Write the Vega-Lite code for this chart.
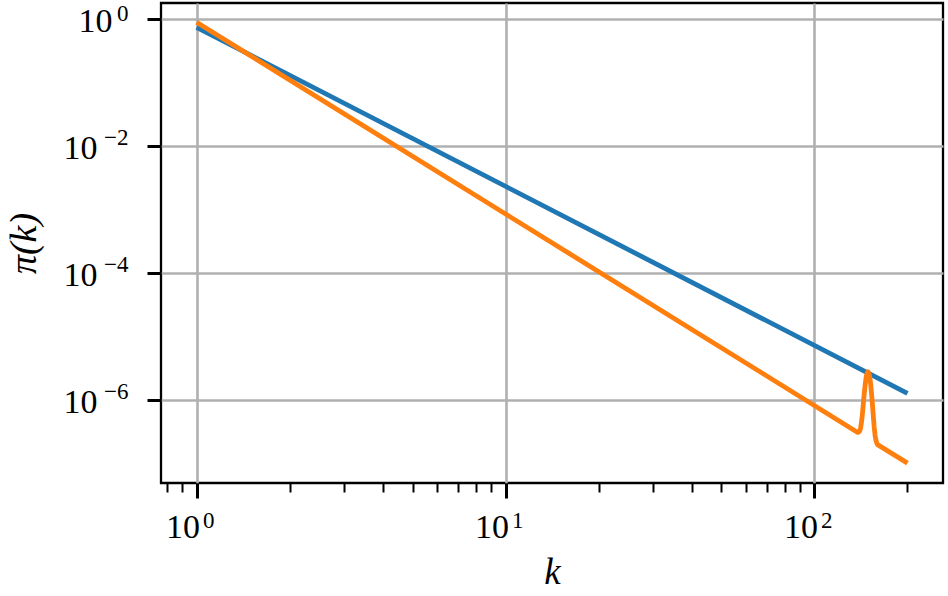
{
  "$schema": "https://vega.github.io/schema/vega-lite/v6.json",
  "width": 782,
  "height": 480,
  "autosize": "none",
  "padding": {"left": 161, "top": 3, "right": 5, "bottom": 113},
  "background": "white",
  "config": {
    "view": {"stroke": "black", "strokeWidth": 2.3},
    "font": "Liberation Serif"
  },
  "data": {
    "values": [
      {"series": "s1", "k": 1, "p": 0.748},
      {"series": "s1", "k": 200, "p": 1.276e-6},
      {"series": "s2", "k": 1, "p": 0.897},
      {"series": "s2", "k": 138, "p": 3.09e-7},
      {"series": "s2", "k": 139, "p": 3.12e-7},
      {"series": "s2", "k": 140, "p": 3.24e-7},
      {"series": "s2", "k": 141, "p": 3.63e-7},
      {"series": "s2", "k": 142, "p": 4.51e-7},
      {"series": "s2", "k": 143, "p": 6.22e-7},
      {"series": "s2", "k": 144, "p": 9.07e-7},
      {"series": "s2", "k": 145, "p": 1.314e-6},
      {"series": "s2", "k": 146, "p": 1.809e-6},
      {"series": "s2", "k": 147, "p": 2.299e-6},
      {"series": "s2", "k": 148, "p": 2.663e-6},
      {"series": "s2", "k": 149, "p": 2.796e-6},
      {"series": "s2", "k": 150, "p": 2.653e-6},
      {"series": "s2", "k": 151, "p": 2.279e-6},
      {"series": "s2", "k": 152, "p": 1.779e-6},
      {"series": "s2", "k": 153, "p": 1.275e-6},
      {"series": "s2", "k": 154, "p": 8.57e-7},
      {"series": "s2", "k": 155, "p": 5.62e-7},
      {"series": "s2", "k": 156, "p": 3.81e-7},
      {"series": "s2", "k": 157, "p": 2.83e-7},
      {"series": "s2", "k": 158, "p": 2.34e-7},
      {"series": "s2", "k": 159, "p": 2.12e-7},
      {"series": "s2", "k": 160, "p": 1.982e-7},
      {"series": "s2", "k": 200, "p": 1.015e-7}
    ]
  },
  "layer": [
    {
      "mark": {"type": "line", "strokeWidth": 4.8, "clip": true, "strokeCap": "butt", "strokeJoin": "round"},
      "encoding": {
        "x": {
          "field": "k", "type": "quantitative",
          "scale": {"type": "log", "domain": [0.767, 260.6], "nice": false},
          "axis": {
            "values": [1, 10, 100],
            "domain": false,
            "grid": true,
            "gridColor": "#b0b0b0",
            "gridWidth": 2.6,
            "gridOpacity": 1,
            "tickColor": "black",
            "tickSize": 15,
            "tickWidth": 3,
            "labelColor": "black",
            "labelFont": "Liberation Serif",
            "labelFontSize": 34,
            "labelAlign": "right",
            "labelBaseline": "alphabetic",
            "labelOffset": 3,
            "labelPadding": 39,
            "labelExpr": "'10'",
            "title": "k",
            "titleColor": "black",
            "titleFont": "Liberation Serif",
            "titleFontSize": 37,
            "titleFontWeight": "normal",
            "titleFontStyle": "italic",
            "titlePadding": 10,
            "orient": "bottom"
          }
        },
        "y": {
          "field": "p", "type": "quantitative",
          "scale": {"type": "log", "domain": [4.93e-8, 1.807], "nice": false},
          "axis": {
            "values": [1, 0.01, 0.0001, 0.000001],
            "domain": false,
            "grid": true,
            "gridColor": "#b0b0b0",
            "gridWidth": 2.6,
            "gridOpacity": 1,
            "tickColor": "black",
            "tickSize": 14,
            "tickWidth": 3,
            "labelColor": "black",
            "labelFont": "Liberation Serif",
            "labelFontSize": 34,
            "labelAlign": "right",
            "labelBaseline": "alphabetic",
            "labelOffset": 12,
            "labelPadding": {"condition": {"test": "datum.value > 0.5", "value": 35}, "value": 50},
            "labelExpr": "'10'",
            "title": "π(k)",
            "titleColor": "black",
            "titleFont": "Liberation Serif",
            "titleFontSize": 38,
            "titleFontWeight": "normal",
            "titleFontStyle": "italic",
            "titlePadding": 20,
            "orient": "left"
          }
        },
        "color": {
          "field": "series", "type": "nominal",
          "scale": {"domain": ["s1", "s2"], "range": ["#1f77b4", "#ff7f0e"]},
          "legend": null
        }
      }
    },
    {
      "mark": {"type": "rule", "opacity": 0},
      "encoding": {
        "x": {
          "field": "k", "type": "quantitative",
          "scale": {"type": "log", "domain": [0.767, 260.6], "nice": false},
          "axis": {
            "values": [0.8, 0.9, 2, 3, 4, 5, 6, 7, 8, 9, 20, 30, 40, 50, 60, 70, 80, 90, 200],
            "domain": false,
            "grid": false,
            "labels": false,
            "tickColor": "black",
            "tickSize": 9,
            "tickWidth": 2,
            "title": null,
            "orient": "bottom"
          }
        }
      }
    },
    {
      "mark": {"type": "rule", "opacity": 0},
      "encoding": {
        "x": {
          "field": "k", "type": "quantitative",
          "scale": {"type": "log", "domain": [0.767, 260.6], "nice": false},
          "axis": {
            "values": [1, 10, 100],
            "domain": false,
            "grid": false,
            "tickOpacity": 0,
            "tickSize": 15,
            "labelColor": "black",
            "labelFont": "Liberation Serif",
            "labelFontSize": 23,
            "labelAlign": "left",
            "labelBaseline": "alphabetic",
            "labelOffset": 6,
            "labelPadding": 29,
            "labelExpr": "datum.value == 1 ? '0' : datum.value == 10 ? '1' : '2'",
            "title": null,
            "orient": "bottom"
          }
        }
      }
    },
    {
      "mark": {"type": "rule", "opacity": 0},
      "encoding": {
        "y": {
          "field": "p", "type": "quantitative",
          "scale": {"type": "log", "domain": [4.93e-8, 1.807], "nice": false},
          "axis": {
            "values": [1, 0.01, 0.0001, 0.000001],
            "domain": false,
            "grid": false,
            "tickOpacity": 0,
            "tickSize": 14,
            "labelColor": "black",
            "labelFont": "Liberation Serif",
            "labelFontSize": 23,
            "labelAlign": "right",
            "labelBaseline": "alphabetic",
            "labelOffset": {"condition": {"test": "datum.value > 0.5", "value": 1}, "value": -2},
            "labelPadding": 19,
            "labelExpr": "datum.value > 0.5 ? '0' : datum.value > 0.005 ? '−2' : datum.value > 0.00005 ? '−4' : '−6'",
            "title": null,
            "orient": "left"
          }
        }
      }
    }
  ],
  "resolve": {"axis": {"x": "independent", "y": "independent"}}
}
